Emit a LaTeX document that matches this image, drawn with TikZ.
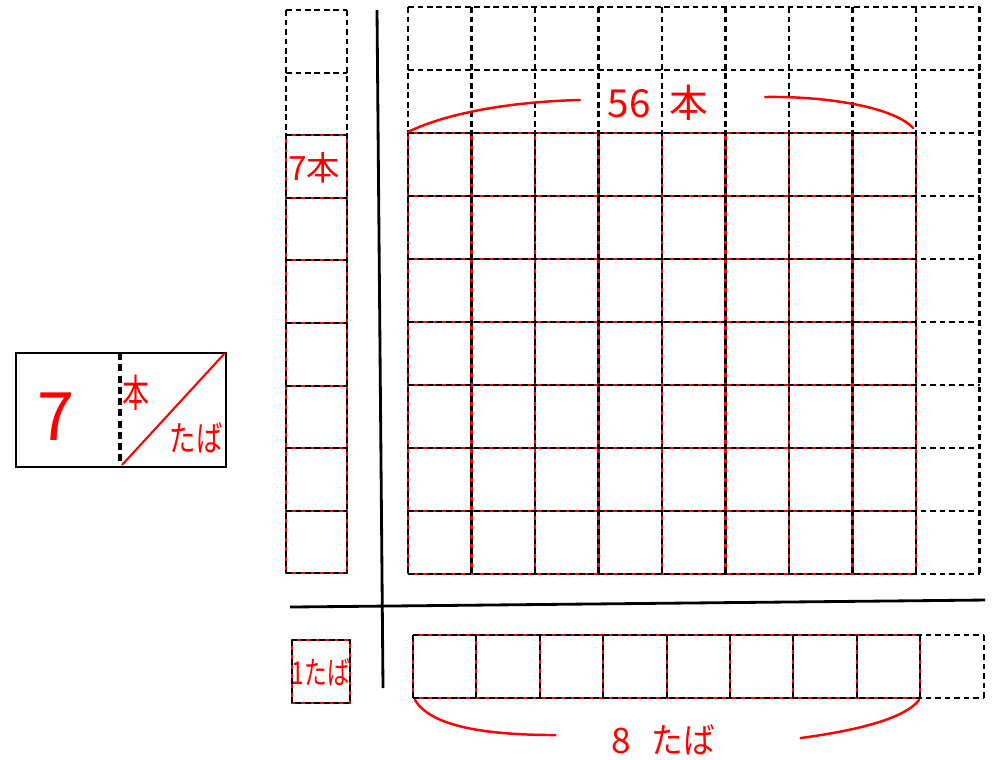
\documentclass[tikz,border=0pt]{standalone}
\usepackage{fontspec}
\usepackage{graphicx}
\newfontfamily\jpfont{Noto Sans CJK JP}
\usetikzlibrary{calc}

\begin{document}
\begin{tikzpicture}[x=0.01cm, y=-0.01cm, font=\jpfont,
    cellline/.style={black, line width=0.6pt, dash pattern=on 1.6pt off 1.1pt},
    redline/.style={red, line width=0.6pt},
    axis/.style={black, line width=0.8pt},
    hand/.style={red, inner sep=0pt},
    brace/.style={red, line width=0.7pt, line cap=round}]

  \useasboundingbox (0,0) rectangle (992,759);

  % Unit box: 7 hon / taba
  \draw[line width=0.8pt] (16,353) rectangle (226,467);
  \draw[line width=0.9pt, dash pattern=on 2pt off 1.2pt] (120,353) -- (120,467);
  \coordinate (diagA) at (122,465);
  \coordinate (diagB) at (225,353);
  \draw[redline] (diagA) -- (diagB);
  \node[hand, font=\jpfont\fontsize{19}{19}\selectfont] (seven) at (56,417) {7};
  \node[hand, font=\jpfont\fontsize{11}{11}\selectfont] (hon) at (136,393) {\scalebox{0.7}[1]{本}};
  \node[hand, font=\jpfont\fontsize{10}{10}\selectfont] (taba) at (196,438) {\scalebox{0.75}[1]{たば}};

  % Main grid, red part first
  \foreach \i in {0,...,8} \draw[redline] (408+63.5*\i,133) -- (408+63.5*\i,574);
  \foreach \j in {2,...,9} \draw[redline] (408,7+63*\j) -- (916,7+63*\j);
  \foreach \i in {0,...,9} \draw[cellline] (408+63.5*\i,7) -- (408+63.5*\i,574);
  \foreach \j in {0,...,9} \draw[cellline] (408,7+63*\j) -- (979.5,7+63*\j);

  % Left column
  \draw[redline] (286,135.2) rectangle (347,573);
  \foreach \k in {3,...,8} \draw[redline] (286,10+62.6*\k) -- (347,10+62.6*\k);
  \draw[cellline] (286,10) -- (286,573) (347,10) -- (347,573);
  \foreach \k in {0,...,9} \draw[cellline] (286,10+62.6*\k) -- (347,10+62.6*\k);
  \node[hand, font=\jpfont\fontsize{9.5}{9.5}\selectfont] (sevenhon) at (314,168) {7本};

  % Bottom row
  \foreach \i in {0,...,8} \draw[redline] (413+63.4*\i,635) -- (413+63.4*\i,698);
  \draw[redline] (413,635) -- (920.2,635) (413,698) -- (920.2,698);
  \foreach \i in {0,...,9} \draw[cellline] (413+63.4*\i,635) -- (413+63.4*\i,698);
  \draw[cellline] (413,635) -- (983.6,635) (413,698) -- (983.6,698);

  % Single bundle cell
  \draw[redline] (292,640) rectangle (350,703);
  \draw[cellline] (292,640) rectangle (350,703);
  \node[hand, font=\jpfont\fontsize{9}{9}\selectfont] (onetaba) at (321,672) {\scalebox{0.72}[1]{1たば}};

  % Axes
  \draw[axis] (377,10) -- (383,688);
  \draw[axis] (290,607) -- (985,600);

  % Total: 56 hon
  \node[hand, font=\jpfont\fontsize{11}{11}\selectfont] (total) at (658,103) {56\hspace{0.5em}本};
  \coordinate (topL) at (408,132);
  \coordinate (topR) at (913,128);
  \draw[brace] (topL) .. controls (440,116) and (500,102) .. ($(total.west)+(-27,-3)$);
  \draw[brace] ($(total.east)+(56,-6)$) .. controls (830,96) and (895,108) .. (topR);

  % Total: 8 taba
  \node[hand, font=\jpfont\fontsize{10}{10}\selectfont] (bundles) at (663,740) {8\hspace{0.6em}\scalebox{0.9}[1]{たば}};
  \coordinate (botL) at (415,700);
  \coordinate (botR) at (919,700);
  \draw[brace] (botL) .. controls (430,725) and (480,735) .. ($(bundles.west)+(-55,-5)$);
  \draw[brace] ($(bundles.east)+(85,-2)$) .. controls (860,730) and (905,718) .. (botR);

\end{tikzpicture}
\end{document}
